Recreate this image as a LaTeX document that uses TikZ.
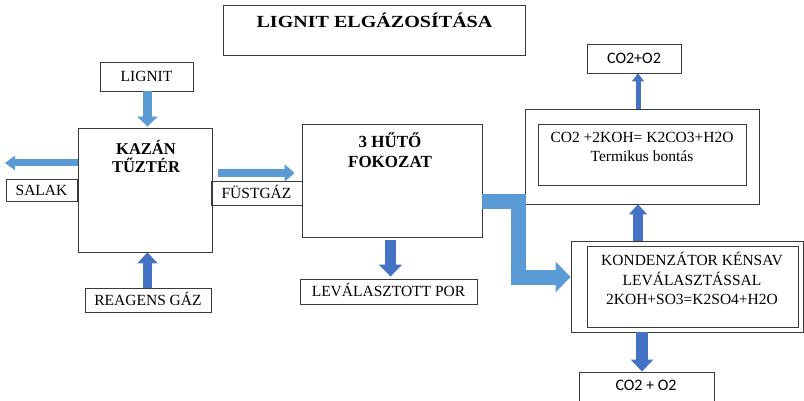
\documentclass[tikz,border=0pt]{standalone}
\usepackage{fontspec}
\setmainfont{Liberation Serif}
\newfontfamily\calib{Carlito}
\usetikzlibrary{arrows.meta}
\definecolor{flowlight}{HTML}{5B9BD5}
\definecolor{flowdark}{HTML}{4472C4}
\definecolor{edge}{HTML}{3A3A3A}

\begin{document}
\begin{tikzpicture}[x=1pt,y=-1pt,
  box/.style={draw=edge,line width=0.9pt,inner sep=0pt,
    font=\fontsize{15.5}{19}\selectfont,text height=10.5pt,text depth=0pt},
  sanslabel/.style={font=\calib\fontsize{16}{19}\selectfont},
  heading/.style={font=\bfseries\fontsize{17}{20}\selectfont,align=center,inner sep=0pt},
  plaintext/.style={font=\fontsize{15.5}{19.5}\selectfont,align=center,inner sep=0pt},
  blk/.style n args={4}{draw=#1,line width=#2,-{Triangle[width=#3,length=#4]}}]

\useasboundingbox (0,0) rectangle (804,401);
\clip (0,0) rectangle (804,401);

% title
\node[box,minimum width=302pt,minimum height=50pt] (title) at (374,30) {};
\node[heading] (titletxt) at (374.5,20) {\scalebox{1.18}[1]{LIGNIT ELGÁZOSÍTÁSA}};

% boiler and its streams
\node[box,minimum width=93pt,minimum height=29pt] (lignit) at (146.5,76.5) {LIGNIT};
\node[box,minimum width=134pt,minimum height=124pt] (kazan) at (145,190) {};
\node[heading,font=\bfseries\fontsize{16.5}{18}\selectfont] (kazantxt) at (146,156) {KAZÁN\\TŰZTÉR};
\node[box,minimum width=71pt,minimum height=22pt] (salak) at (41.5,190) {SALAK};
\node[box,minimum width=91pt,minimum height=24pt] (fustgaz) at (256.5,193) {FÜSTGÁZ};
\node[box,minimum width=126pt,minimum height=24pt] (reagens) at (148,300) {REAGENS GÁZ};

% cooling stages
\node[box,minimum width=180pt,minimum height=113pt] (hut) at (392,180.5) {};
\node[heading] (huttxt) at (390,150) {3 HŰTŐ\\FOKOZAT};
\node[box,minimum width=177pt,minimum height=25pt] (levpor) at (388.5,291.5) {LEVÁLASZTOTT POR};

% thermal decomposition
\node[box,minimum width=234pt,minimum height=95pt] (bontas) at (642,156.5) {};
\node[box,minimum width=208pt,minimum height=61pt] (bontasin) at (642,154.5) {};
\node[plaintext] (bontastxt) at (642,147) {CO2 +2KOH= K2CO3+H2O\\Termikus bontás};
\node[box,sanslabel,minimum width=94pt,minimum height=29pt] (co2top) at (634,58.5) {CO2+O2};

% condenser
\node[box,minimum width=232pt,minimum height=91pt] (konden) at (687,286.5) {};
\node[box,minimum width=211pt,minimum height=81pt] (kondenin) at (692.5,286.5) {};
\node[plaintext] (kondentxt) at (692,278.5) {KONDENZÁTOR KÉNSAV\\LEVÁLASZTÁSSAL\\2KOH+SO3=K2SO4+H2O};
\node[box,sanslabel,minimum width=135pt,minimum height=40pt] (co2bot) at (646.5,392) {};
\node[sanslabel,inner sep=0pt] (co2bottxt) at (646,385) {CO2 + O2};

% flows
\draw[blk={flowlight}{9pt}{20pt}{10pt}] ([xshift=1pt]lignit.south) -- ([xshift=1pt,yshift=1pt]lignit.south |- kazan.north);
\draw[blk={flowdark}{9pt}{20pt}{11pt}] ([xshift=-0.5pt]reagens.north) -- ([xshift=-0.5pt]reagens.north |- kazan.south);
\draw[blk={flowlight}{7pt}{14pt}{10pt}] ([yshift=27pt]kazan.west) -- ([yshift=27pt]kazan.west -| 5,0);
\draw[blk={flowlight}{8pt}{17pt}{10pt}] ([yshift=17pt,xshift=6pt]kazan.east) -- ([xshift=-7pt]hut.west |- 0,173);
\draw[blk={flowdark}{11pt}{23pt}{12pt}] ([xshift=-1.5pt,yshift=-3pt]hut.south) -- ([xshift=2pt,yshift=2pt]levpor.north);
\draw[blk={flowlight}{15pt}{30pt}{15pt}] (hut.east |- 0,201.5) -- (518.5,201.5) |- ([yshift=9.5pt]konden.west);
\draw[blk={flowdark}{5pt}{12pt}{8pt}] ([xshift=-4pt]bontas.north) -- ([xshift=4pt]co2top.south);
\draw[blk={flowdark}{10pt}{18pt}{10pt}] ([xshift=-49pt]konden.north) -- ([xshift=-4pt]bontas.south);
\draw[blk={flowdark}{12pt}{22pt}{12pt}] ([xshift=-45pt]konden.south) -- ([xshift=-4.5pt]co2bot.north);
\end{tikzpicture}
\end{document}
